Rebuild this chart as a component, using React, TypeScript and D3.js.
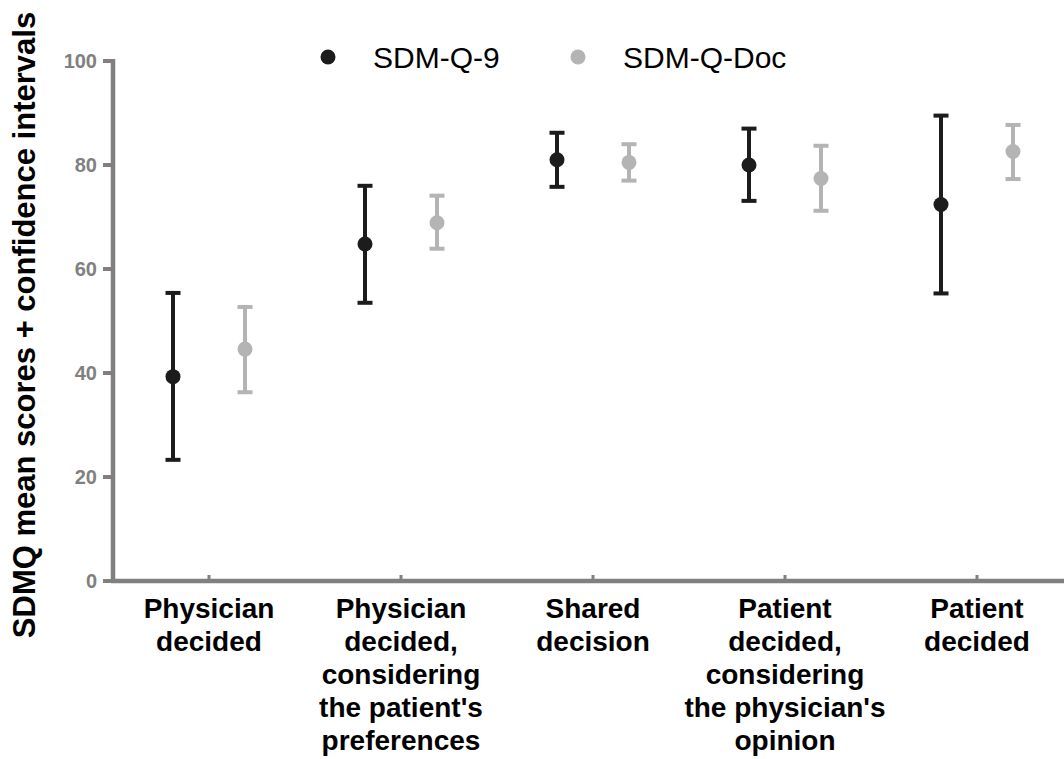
import React, { useEffect } from 'react';
import * as d3 from 'd3';

const categories = [
  ['Physician', 'decided'],
  ['Physician', 'decided,', 'considering', "the patient's", 'preferences'],
  ['Shared', 'decision'],
  ['Patient', 'decided,', 'considering', "the physician's", 'opinion'],
  ['Patient', 'decided'],
];
const seriesNames = ['SDM-Q-9', 'SDM-Q-Doc'];

const q9Mean = [39.3, 64.8, 81.0, 80.0, 72.4];
const q9Low = [23.3, 53.5, 75.8, 73.1, 55.3];
const q9High = [55.4, 76.0, 86.2, 87.0, 89.5];

const docMean = [44.6, 68.9, 80.5, 77.4, 82.6];
const docLow = [36.3, 63.9, 77.0, 71.2, 77.3];
const docHigh = [52.7, 74.1, 84.0, 83.7, 87.7];

const yTicks = [0, 20, 40, 60, 80, 100];

const COLORS = ['#1c1c1c', '#b4b4b4'];
const AXIS = '#808080';

const App: React.FC = () => {
  useEffect(() => {
    document.body.style.margin = '0';
  }, []);

  const width = 1064;
  const height = 759;

  const y = d3.scaleLinear().domain([0, 100]).range([581, 61]);
  const x = d3.scalePoint<number>().domain(d3.range(categories.length)).range([209, 977]);
  const sub = d3.scalePoint<string>().domain(seriesNames).range([-36, 36]);

  const series = [
    { name: seriesNames[0], mean: q9Mean, low: q9Low, high: q9High, color: COLORS[0] },
    { name: seriesNames[1], mean: docMean, low: docLow, high: docHigh, color: COLORS[1] },
  ];

  const axisX = 113;
  const font = 'Arial, "Liberation Sans", Helvetica, sans-serif';

  return (
    <svg width={width} height={height} style={{ display: 'block', background: '#fff', fontFamily: font }}>
      {/* y axis title */}
      <text
        transform={`translate(35, 325) rotate(-90)`}
        textAnchor="middle"
        fontSize={31}
        fontWeight="bold"
        fill="#000"
      >
        SDMQ mean scores + confidence intervals
      </text>

      {/* y axis */}
      <line x1={axisX} x2={axisX} y1={y(100) - 2} y2={y(0) + 2} stroke={AXIS} strokeWidth={4.5} />
      {yTicks.map((t) => (
        <g key={t}>
          <line x1={103} x2={axisX} y1={y(t)} y2={y(t)} stroke={AXIS} strokeWidth={4} />
          <text x={97} y={y(t)} dy="0.35em" textAnchor="end" fontSize={20} fontWeight="bold" fill={AXIS}>
            {t}
          </text>
        </g>
      ))}

      {/* x axis */}
      <line x1={axisX - 2} x2={width} y1={y(0)} y2={y(0)} stroke={AXIS} strokeWidth={4.5} />
      {categories.map((c, i) => (
        <g key={i}>
          <line x1={x(i)!} x2={x(i)!} y1={y(0)} y2={y(0) - 6} stroke={AXIS} strokeWidth={3} />
          <text x={x(i)!} y={618} textAnchor="middle" fontSize={28} fontWeight="bold" fill="#000">
            {c.map((line, k) => (
              <tspan key={k} x={x(i)!} dy={k === 0 ? 0 : 33}>
                {line}
              </tspan>
            ))}
          </text>
        </g>
      ))}

      {/* error bars and means */}
      {series.map((s) => (
        <g key={s.name}>
          {s.mean.map((m, i) => {
            const cx = x(i)! + sub(s.name)!;
            return (
              <g key={i}>
                <line x1={cx} x2={cx} y1={y(s.low[i])} y2={y(s.high[i])} stroke={s.color} strokeWidth={4} />
                <line x1={cx - 7.5} x2={cx + 7.5} y1={y(s.low[i])} y2={y(s.low[i])} stroke={s.color} strokeWidth={4} />
                <line x1={cx - 7.5} x2={cx + 7.5} y1={y(s.high[i])} y2={y(s.high[i])} stroke={s.color} strokeWidth={4} />
                <circle cx={cx} cy={y(m)} r={7.5} fill={s.color} />
              </g>
            );
          })}
        </g>
      ))}

      {/* legend */}
      {series.map((s, i) => {
        const lx = [328, 578][i];
        return (
          <g key={s.name}>
            <circle cx={lx} cy={57} r={7.5} fill={s.color} />
            <text x={lx + 45} y={68} fontSize={30} fill="#000">
              {s.name}
            </text>
          </g>
        );
      })}
    </svg>
  );
};

export default App;
